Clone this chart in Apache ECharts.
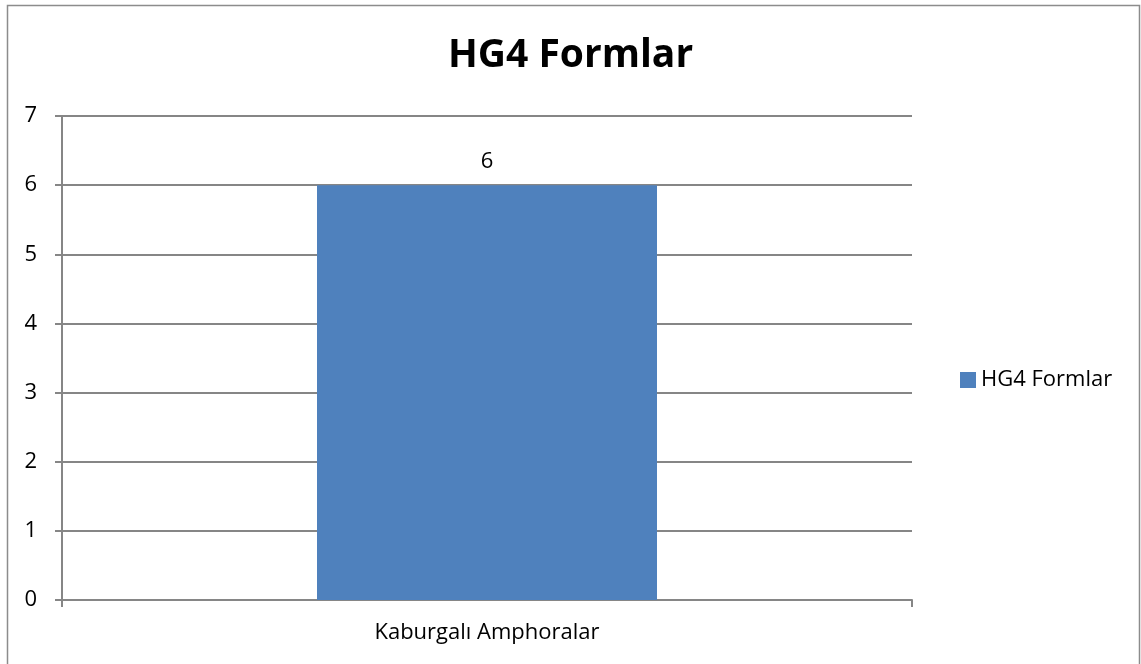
<!DOCTYPE html>
<html>
<head>
<meta charset="utf-8">
<script src="https://cdn.jsdelivr.net/npm/echarts@6/dist/echarts.min.js"></script>
<style>
html, body { margin: 0; padding: 0; background: #fff; }
#main { width: 1141px; height: 664px; }
</style>
</head>
<body>
<div id="main"></div>
<script>
var categories = ['Kaburgalı Amphoralar'];
var seriesName = 'HG4 Formlar';
var values = [6];
var yTicks = { min: 0, max: 7, interval: 1 };

var chart = echarts.init(document.getElementById('main'));
var font = '"Open Sans", "Liberation Sans", sans-serif';
chart.setOption({
    animation: false,
    graphic: [{
        type: 'rect',
        shape: { x: 7.5, y: 5.5, width: 1132, height: 664 },
        style: { fill: 'none', stroke: '#8c8c8c', lineWidth: 1.5 },
        silent: true
    }],
    title: {
        text: 'HG4 Formlar',
        left: 'center',
        top: 31,
        textStyle: { fontFamily: font, fontSize: 39, fontWeight: 'bold', color: '#000' }
    },
    legend: {
        orient: 'vertical',
        left: 955,
        top: 364,
        itemWidth: 16,
        itemHeight: 16,
        itemGap: 6,
        icon: 'rect',
        textStyle: { fontFamily: font, fontSize: 22, color: '#000' },
        data: [seriesName]
    },
    grid: { left: 62, right: 229, top: 116, bottom: 64, containLabel: false },
    xAxis: {
        type: 'category',
        data: categories,
        axisLine: { lineStyle: { color: '#868686', width: 2 } },
        axisTick: { show: true, length: 7, lineStyle: { color: '#868686', width: 2 } },
        axisLabel: { fontFamily: font, fontSize: 22, color: '#000', margin: 22 }
    },
    yAxis: {
        type: 'value',
        min: yTicks.min,
        max: yTicks.max,
        interval: yTicks.interval,
        axisLine: { show: true, lineStyle: { color: '#868686', width: 2 } },
        axisTick: { show: true, length: 7, lineStyle: { color: '#868686', width: 2 } },
        axisLabel: { fontFamily: font, fontSize: 22, color: '#000', margin: 25 },
        splitLine: { lineStyle: { color: '#868686', width: 2 } }
    },
    series: [{
        name: seriesName,
        type: 'bar',
        data: values,
        barWidth: '40%',
        itemStyle: { color: '#4F81BD' },
        label: { show: true, position: 'top', distance: 12, fontFamily: font, fontSize: 22, color: '#000' }
    }]
});
</script>
</body>
</html>
